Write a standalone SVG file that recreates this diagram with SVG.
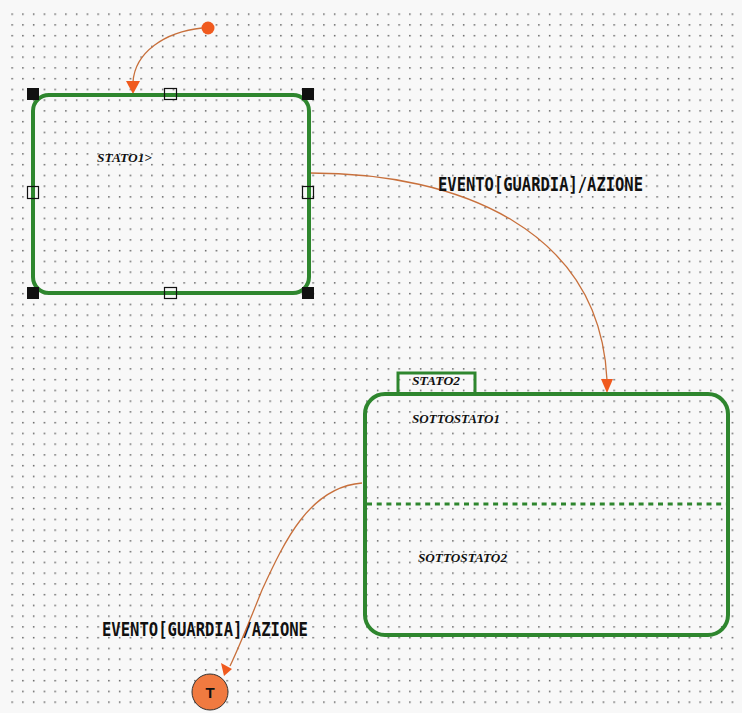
<svg xmlns="http://www.w3.org/2000/svg" width="742" height="713" viewBox="0 0 742 713">
<defs>
<pattern id="grid" patternUnits="userSpaceOnUse" x="11.4" y="13.4" width="10.75" height="10.75">
<rect x="0" y="0" width="1.5" height="1.5" fill="#606060"/>
</pattern>
<style>
.state{fill:none;stroke:#2e862e;stroke-width:4}
.tab{fill:none;stroke:#2e862e;stroke-width:3}
.sep{stroke:#2e862e;stroke-width:3;stroke-dasharray:5 4.7}
.lbl{font-family:"Liberation Serif","DejaVu Serif",serif;font-weight:bold;font-style:italic;font-size:13px;fill:#111}
.ev{font-family:"DejaVu Sans Mono","Liberation Mono",monospace;font-weight:bold;font-size:19px;fill:#111}
.tr{fill:none;stroke:#c8703c;stroke-width:1.3}
.ah{fill:#f05a1e}
.hb{fill:#111}
.hw{fill:none;stroke:#111;stroke-width:1.2}
</style>
</defs>
<rect width="742" height="713" fill="#f8f8f8"/>
<rect x="6" y="8" width="732" height="702" fill="url(#grid)"/>
<g id="connectors">
<path class="tr" d="M202,28 C165,32 135,52 133,82"/>
<polygon class="ah" points="126,81 140,81 133,94"/>
<path class="tr" d="M310,173 C460,173 600,230 607,380"/>
<polygon class="ah" points="601,379 613,379 607,393"/>
<path class="tr" d="M362,483 C310,487 285,540 262,590 C250,620 240,645 230,666"/>
<polygon class="ah" points="221,663 232,669 224,676"/>
<text class="ev" x="438" y="191" textLength="205" lengthAdjust="spacingAndGlyphs">EVENTO[GUARDIA]/AZIONE</text>
<text class="ev" x="102" y="636" textLength="206" lengthAdjust="spacingAndGlyphs">EVENTO[GUARDIA]/AZIONE</text>
</g>
<g id="initial">
<circle cx="208" cy="28" r="6.5" fill="#f05a1e"/>
</g>
<g id="stato1">
<rect class="state" x="33" y="95" width="276" height="198" rx="16" ry="16"/>
<text class="lbl" x="97" y="162" textLength="55" lengthAdjust="spacingAndGlyphs">STATO1&gt;</text>
<rect class="hb" x="27" y="88" width="12" height="12"/>
<rect class="hb" x="302" y="88" width="12" height="12"/>
<rect class="hb" x="27" y="287" width="12" height="12"/>
<rect class="hb" x="302" y="287" width="12" height="12"/>
<rect class="hw" x="164.5" y="88.5" width="12" height="11"/>
<rect class="hw" x="164.5" y="287.5" width="12" height="11"/>
<rect class="hw" x="27.5" y="186.5" width="11" height="12"/>
<rect class="hw" x="302.5" y="186.5" width="11" height="12"/>
</g>
<g id="stato2">
<path class="tab" d="M398,393 V373 H475 V393"/>
<rect class="state" x="365" y="394" width="363" height="241" rx="20" ry="20"/>
<line class="sep" x1="367" y1="504" x2="726" y2="504"/>
<text class="lbl" x="412" y="385" textLength="48" lengthAdjust="spacingAndGlyphs">STATO2</text>
<text class="lbl" x="412" y="423" textLength="88" lengthAdjust="spacingAndGlyphs">SOTTOSTATO1</text>
<text class="lbl" x="418" y="562" textLength="89" lengthAdjust="spacingAndGlyphs">SOTTOSTATO2</text>
</g>
<g id="final">
<circle cx="210" cy="692" r="18" fill="#f07a40" stroke="#333" stroke-width="1"/>
<text x="210" y="698" text-anchor="middle" font-family="'Liberation Sans',Arial,sans-serif" font-weight="bold" font-size="15" fill="#111">T</text>
</g>
</svg>
